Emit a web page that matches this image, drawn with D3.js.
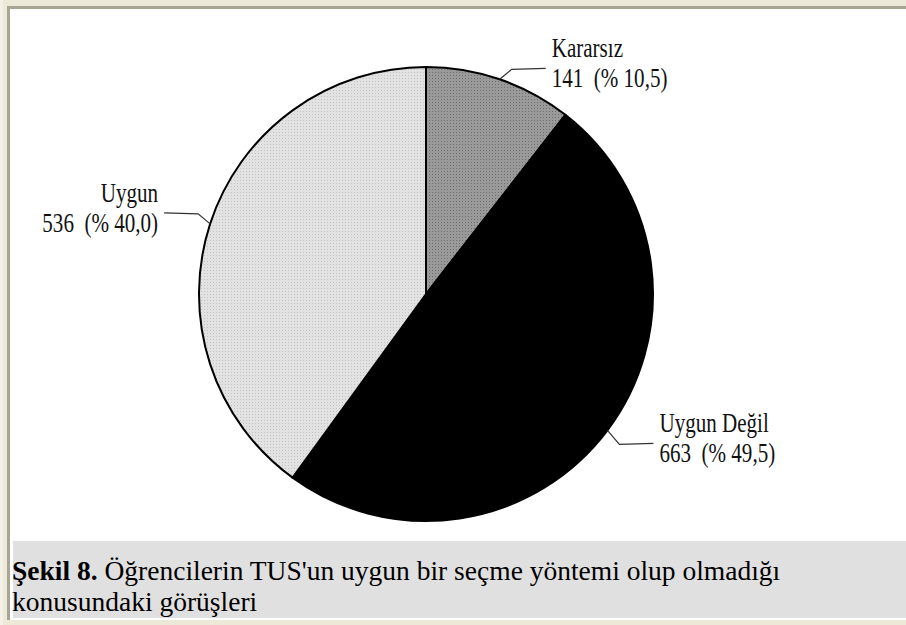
<!DOCTYPE html>
<html>
<head>
<meta charset="utf-8">
<script src="https://cdn.jsdelivr.net/npm/d3@7"></script>
<style>
  html, body { margin: 0; padding: 0; background: #ECE9D8; }
  svg { display: block; }
  text { white-space: pre; }
</style>
</head>
<body>
<svg id="chart" width="906" height="625"></svg>
<script>
// ---- data ----
const categories = ["Kararsız", "Uygun Değil", "Uygun"];
const counts = [141, 663, 536];
const percentLabels = ["10,5", "49,5", "40,0"];
const captionBold = "Şekil 8.";
const captionLines = [" Öğrencilerin TUS'un uygun bir seçme yöntemi olup olmadığı", "konusundaki görüşleri"];

// ---- styles ----
const fills = ["url(#patMid)", "#000000", "url(#patLight)"];
const labelSide = [1, 1, -1];

const W = 906, H = 625;
const svg = d3.select("#chart");

const defs = svg.append("defs");
const patMid = defs.append("pattern").attr("id", "patMid").attr("width", 3).attr("height", 3).attr("patternUnits", "userSpaceOnUse");
patMid.append("rect").attr("width", 3).attr("height", 3).attr("fill", "#9a9a9a");
patMid.append("rect").attr("width", 1).attr("height", 1).attr("fill", "#6e6e6e");
const patLight = defs.append("pattern").attr("id", "patLight").attr("width", 3).attr("height", 3).attr("patternUnits", "userSpaceOnUse");
patLight.append("rect").attr("width", 3).attr("height", 3).attr("fill", "#e2e2e2");
patLight.append("rect").attr("width", 1).attr("height", 1).attr("fill", "#c4c4c4");

// page background and frame
svg.append("rect").attr("width", W).attr("height", H).attr("fill", "#ECE9D8");
svg.append("rect").attr("x", 0).attr("y", 0).attr("width", 3).attr("height", H).attr("fill", "#F4F2E8");
svg.append("rect").attr("x", 7).attr("y", 6).attr("width", W - 7).attr("height", 614).attr("fill", "#A6A596");
svg.append("rect").attr("x", 10).attr("y", 9).attr("width", W - 10).attr("height", 611).attr("fill", "#FFFFFF");
svg.append("rect").attr("x", 13).attr("y", 541).attr("width", W - 13).attr("height", 77).attr("fill", "#E0E0E0");

// ---- pie ----
const cx = 426, cy = 294, R = 227;
const g = svg.append("g").attr("transform", `translate(${cx},${cy})`);
const pie = d3.pie().sort(null).value(d => d)(counts);
const arc = d3.arc().innerRadius(0).outerRadius(R);

g.selectAll("path.slice").data(pie).join("path")
  .attr("class", "slice")
  .attr("d", arc)
  .attr("fill", (d, i) => fills[i])
  .attr("stroke", "#000")
  .attr("stroke-width", 2)
  .attr("stroke-linejoin", "round");

// leader lines + labels
const fontFamily = "Liberation Serif";
pie.forEach((d, i) => {
  const a = (d.startAngle + d.endAngle) / 2;
  const p0 = [R * Math.sin(a), -R * Math.cos(a)];
  const side = labelSide[i];
  const dy = Math.cos(a) > 0 ? -10 : 14;
  const p1 = [p0[0] + side * 12, p0[1] + dy];
  const p2 = [p1[0] + side * 34, p1[1] - 1];
  g.append("path")
    .attr("d", d3.line()([p0, p1, p2]))
    .attr("fill", "none").attr("stroke", "#333").attr("stroke-width", 1.2);
  const tx = p2[0] + side * 6;
  const anchor = side > 0 ? "start" : "end";
  const lines = [categories[i], `${counts[i]}  (% ${percentLabels[i]})`];
  lines.forEach((t, k) => {
    g.append("text")
      .attr("transform", `translate(${tx},${p2[1] + (k === 0 ? -11 : 19)}) scale(0.78,1)`)
      .attr("text-anchor", anchor)
      .attr("font-family", fontFamily)
      .attr("font-size", 27)
      .attr("fill", "#111")
      .text(t);
  });
});

// ---- caption ----
const cap = svg.append("text")
  .attr("x", 12).attr("y", 580)
  .attr("font-family", fontFamily)
  .attr("font-size", 27.5)
  .attr("fill", "#000");
cap.append("tspan").attr("font-weight", "bold").text(captionBold);
cap.append("tspan").text(captionLines[0]);
svg.append("text")
  .attr("x", 12).attr("y", 611)
  .attr("font-family", fontFamily)
  .attr("font-size", 27.5)
  .attr("fill", "#000")
  .text(captionLines[1]);
</script>
</body>
</html>
